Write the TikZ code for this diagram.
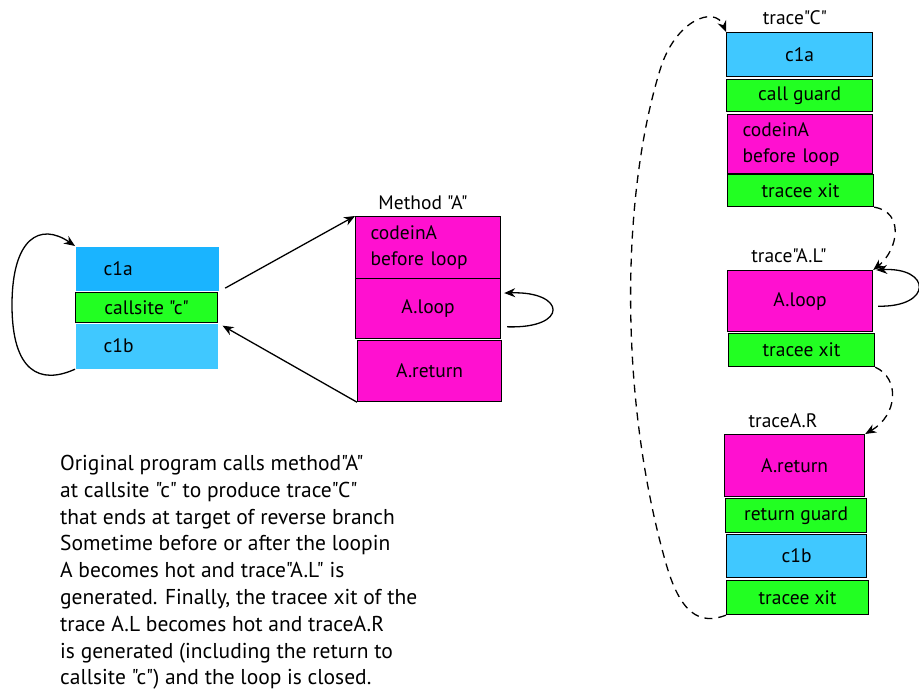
\documentclass[tikz,border=0pt]{standalone}
\usepackage{fontspec}
\setmainfont{PT Sans}[Ligatures=TeXOff]
\usetikzlibrary{arrows.meta,positioning}
\definecolor{deepblue}{RGB}{26,180,255}
\definecolor{lightblue}{RGB}{64,200,255}
\definecolor{guardgreen}{RGB}{34,255,34}
\definecolor{methodpink}{RGB}{255,16,208}
\tikzset{
  cell/.style={rectangle, anchor=north west, inner sep=0pt, line width=1.2pt,
    font=\fontsize{19.5}{26}\selectfont},
  bluecell/.style={cell, fill=lightblue, draw=black},
  greencell/.style={cell, fill=guardgreen, draw=black},
  pinkcell/.style={cell, fill=methodpink, draw=black},
  padded/.style={align=left, inner xsep=15pt, text width=#1},
  caption/.style={font=\fontsize{19.5}{22}\selectfont},
  arr/.style={line width=1.3pt, -{Stealth[length=11pt,width=9pt]}},
  darr/.style={arr, dash pattern=on 8pt off 6pt}
}

\begin{document}
\begin{tikzpicture}[x=1pt,y=-1pt]
\useasboundingbox[fill=white] (0,0) rectangle (919,695);

% original code with callsite
\node[cell, fill=deepblue, minimum width=143pt, minimum height=44pt, inner xsep=28pt, align=left, text width=87pt] (c1a) at (75,246) {c1a};
\node[greencell, minimum width=142pt, minimum height=30pt] (cs) at (75,292) {callsite "c"};
\node[cell, fill=lightblue, minimum width=142pt, minimum height=45pt, inner xsep=28pt, align=left, text width=86pt] (c1b) at (75,323) {c1b};
\draw[arr] (c1b.south west) .. controls (40,385) and (12,372) .. (12,305) .. controls (12,238) and (40,222) .. (c1a.north west);

% method A
\node[caption] (mlabel) at (423,203) {Method "A"};
\node[pinkcell, minimum width=145pt, minimum height=62pt, padded=115pt] (mbody) at (355,216) {codeinA\\before loop};
\node[pinkcell, minimum width=145pt, minimum height=60pt] (mloop) at (355,278) {A.loop};
\node[pinkcell, minimum width=144pt, minimum height=61pt] (mret) at (357,340) {A.return};
\draw[arr] ([xshift=6pt]mloop.-14) .. controls +(62,2) and +(62,-2) .. ([xshift=3pt]mloop.12);
\draw[arr, shorten <=8pt] (cs.north east) -- (mbody.north west);
\draw[arr, shorten >=5pt] (mret.south west) -- (cs.south east);

% trace C
\node[caption] (tclabel) at (795,18) {trace"C"};
\node[bluecell, minimum width=146pt, minimum height=44pt] (tc1) at (726,32) {c1a};
\node[greencell, minimum width=146pt, minimum height=32pt] (tc2) at (726,79) {call guard};
\node[pinkcell, minimum width=145pt, minimum height=59pt, padded=115pt] (tc3) at (727,114) {codeinA\\before loop};
\node[greencell, minimum width=146pt, minimum height=32pt] (tc4) at (727,174) {tracee xit};

% trace A.L
\node[caption] (tllabel) at (789,256) {trace"A.L"};
\node[pinkcell, minimum width=145pt, minimum height=61pt] (tl1) at (727,270) {A.loop};
\node[greencell, minimum width=146pt, minimum height=33pt] (tl2) at (728,333) {tracee xit};
\draw[arr] ([xshift=5pt]tl1.-4) .. controls +(55,1) and +(55,-3) .. ([xshift=3pt]tl1.north east);
\draw[darr] (tc4.south east) .. controls (905,212) and (898,250) .. (tl1.north east);

% trace A.R
\node[caption] (trlabel) at (783,421) {traceA.R};
\node[pinkcell, minimum width=140pt, minimum height=62pt] (tr1) at (724,434) {A.return};
\node[greencell, minimum width=141pt, minimum height=34pt] (tr2) at (725,498) {return guard};
\node[bluecell, minimum width=140pt, minimum height=43pt] (tr3) at (726,534) {c1b};
\node[greencell, minimum width=142pt, minimum height=34pt] (tr4) at (726,580) {tracee xit};
\draw[darr] (tl2.south east) .. controls (900,378) and (898,415) .. (tr1.north east);
\draw[darr] (tr4.south west) .. controls (700,625) and (680,615) .. (665,560) .. controls (620,400) and (620,200) .. (660,70) .. controls (675,20) and (715,5) .. (tc1.north west);

% explanation
\node[anchor=north west, align=left, inner sep=0pt, font=\fontsize{21.5}{26.8}\selectfont] (note) at (60,455) {Original program calls method"A"\\
at callsite "c" to produce trace"C"\\
that ends at target of reverse branch\\
Sometime before or after the loopin\\
A becomes hot and trace"A.L" is\\
generated. Finally, the tracee xit of the\\
trace A.L becomes hot and traceA.R\\
is generated (including the return to\\
callsite "c") and the loop is closed.};
\end{tikzpicture}
\end{document}
